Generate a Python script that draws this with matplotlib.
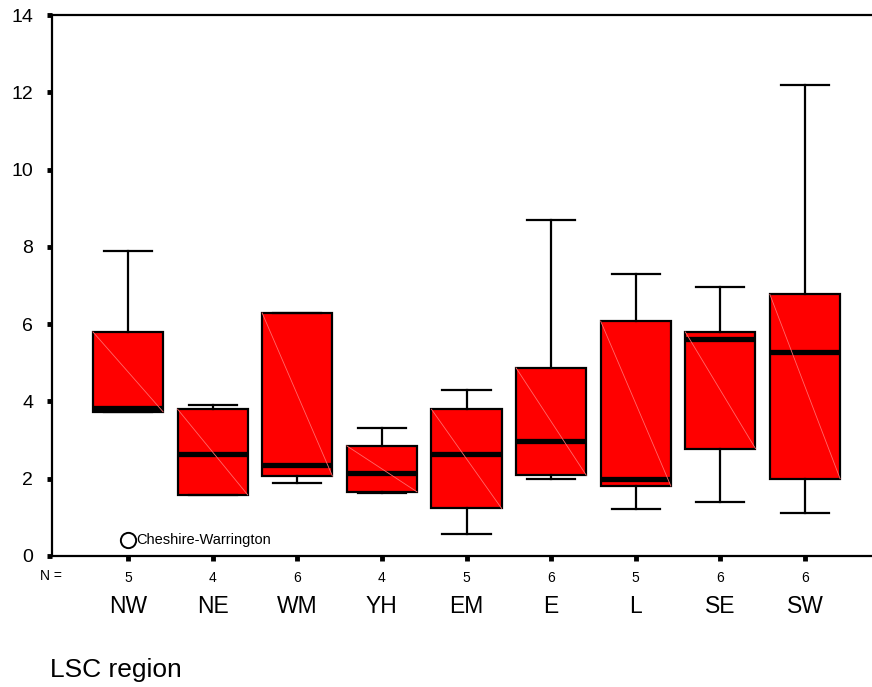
import matplotlib
matplotlib.use("Agg")
import matplotlib.pyplot as plt
import matplotlib.transforms as mtransforms

plt.rcParams['font.family'] = ['Liberation Sans', 'DejaVu Sans']

regions = ["NW", "NE", "WM", "YH", "EM", "E", "L", "SE", "SW"]
counts = [5, 4, 6, 4, 5, 6, 5, 6, 6]
whisker_low = [3.73, 1.58, 1.90, 1.63, 0.57, 2.00, 1.22, 1.41, 1.12]
q1 = [3.73, 1.58, 2.07, 1.66, 1.23, 2.09, 1.81, 2.78, 2.00]
median = [3.82, 2.65, 2.36, 2.16, 2.64, 2.98, 2.00, 5.62, 5.28]
q3 = [5.80, 3.80, 6.29, 2.85, 3.80, 4.87, 6.08, 5.80, 6.77]
whisker_high = [7.90, 3.91, 6.29, 3.30, 4.29, 8.70, 7.30, 6.97, 12.19]
outliers = [[0.41], [], [], [], [], [], [], [], []]
outlier_labels = ["Cheshire-Warrington"]
yticks = [0, 2, 4, 6, 8, 10, 12, 14]

fig = plt.figure(figsize=(8.72, 6.87), dpi=100)
ax = fig.add_axes([52/872, 131/687, 1 - 52/872, (556 - 15)/687])

positions = list(range(1, len(regions) + 1))
stats = []
for i in range(len(regions)):
    stats.append(dict(med=median[i], q1=q1[i], q3=q3[i],
                      whislo=whisker_low[i], whishi=whisker_high[i],
                      fliers=outliers[i], label=regions[i]))

bw = 0.83
ax.bxp(stats, positions=positions, widths=bw, capwidths=0.57,
       patch_artist=True, showfliers=True,
       boxprops=dict(facecolor='#ff0000', edgecolor='black', linewidth=1.6),
       medianprops=dict(color='black', linewidth=3.8, solid_capstyle='butt'),
       whiskerprops=dict(color='black', linewidth=1.6),
       capprops=dict(color='black', linewidth=1.6),
       flierprops=dict(marker='o', markerfacecolor='none', markeredgecolor='black',
                       markersize=11, markeredgewidth=1.4),
       zorder=3)

# subtle diagonal inside each box
for p, lo, hi in zip(positions, q1, q3):
    ax.plot([p - bw/2, p + bw/2], [hi, lo], color='#ff6a6a', lw=0.6, zorder=3.5)

# outlier label
for i, fl in enumerate(outliers):
    for v in fl:
        ax.annotate(outlier_labels[0], xy=(positions[i], v), xytext=(8, 0),
                    textcoords='offset pixels', fontsize=10.5, va='center', ha='left',
                    color='black', zorder=5)

ax.set_xlim(1 - 76/84.6, 9 + 67/84.6)
ax.set_ylim(0, 14)

ax.spines['right'].set_visible(False)
for s in ['left', 'top', 'bottom']:
    ax.spines[s].set_linewidth(1.6)
    ax.spines[s].set_color('black')

ax.set_yticks(yticks)
ax.set_yticklabels([str(t) for t in yticks], fontsize=14)
ax.tick_params(axis='y', direction='out', length=3.5, width=3.5, pad=10, color='black')
ax.set_xticks(positions)
ax.set_xticklabels([str(c) for c in counts], fontsize=10)
ax.tick_params(axis='x', direction='out', length=3.5, width=3.5, pad=7, color='black')

trans = mtransforms.blended_transform_factory(ax.transData, ax.transAxes)
for p, r in zip(positions, regions):
    ax.text(p, -0.094, r, transform=trans, ha='center', va='center', fontsize=16.5)
ax.text(62/872, 1 - 576/687, "N =", transform=fig.transFigure, ha='right', va='center', fontsize=10)

fig.text(50/872, 1 - 677/687, "LSC region", ha='left', va='baseline', fontsize=19)

fig.savefig("out.png", dpi=100)
